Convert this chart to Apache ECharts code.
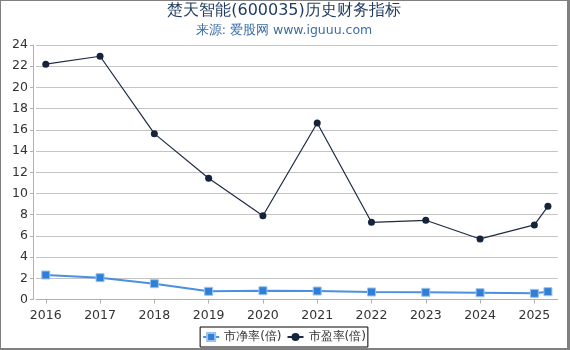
<!DOCTYPE html>
<html>
<head>
<meta charset="utf-8">
<script src="https://cdn.jsdelivr.net/npm/echarts@6/dist/echarts.min.js"></script>
<style>
html,body{margin:0;padding:0;background:#fff;}
#wrap{position:absolute;left:0;top:0;width:566px;height:347px;border-left:1px solid #808080;border-top:1px solid #808080;border-right:3px solid #808080;border-bottom:2px solid #808080;}
#chart{width:566px;height:347px;}
</style>
</head>
<body>
<div id="wrap"><div id="chart"></div></div>
<script>
const titleText = '楚天智能(600035)历史财务指标';
const subText = '来源: 爱股网 www.iguuu.com';
const xPositions = [2016, 2017, 2018, 2019, 2020, 2021, 2022, 2023, 2024, 2025, 2025.25];
const xTicks = [2016, 2017, 2018, 2019, 2020, 2021, 2022, 2023, 2024, 2025];
const yTicks = [0, 2, 4, 6, 8, 10, 12, 14, 16, 18, 20, 22, 24];
const pbName = '市净率(倍)';
const peName = '市盈率(倍)';
const pbValues = [2.31, 2.06, 1.49, 0.77, 0.83, 0.80, 0.71, 0.68, 0.64, 0.58, 0.74];
const peValues = [22.19, 22.94, 15.64, 11.43, 7.90, 16.65, 7.28, 7.47, 5.71, 7.03, 8.79];

const chart = echarts.init(document.getElementById('chart'));
const font = 'DejaVu Sans';
chart.setOption({
  animation: false,
  title: {
    text: titleText,
    subtext: subText,
    left: 'center',
    top: 2,
    padding: [0, 0],
    itemGap: 5,
    textStyle: {fontFamily: font, fontSize: 16, fontWeight: 'normal', color: '#1e3a5f'},
    subtextStyle: {fontFamily: font, fontSize: 12.5, color: '#3a6ea5'}
  },
  legend: {
    bottom: 1,
    left: 'center',
    padding: [4, 2],
    itemWidth: 16,
    itemHeight: 10,
    itemGap: 5,
    borderColor: '#000',
    borderWidth: 1,
    textStyle: {fontFamily: font, fontSize: 12, color: '#333'},
    data: [pbName, peName]
  },
  grid: {left: 35, right: 9.3, top: 44, bottom: 48.5},
  xAxis: {
    type: 'value',
    min: 2015.82,
    max: 2025.43,
    offset: 4,
    splitLine: {show: false},
    axisLine: {show: true, lineStyle: {color: '#b0b0b0'}},
    axisTick: {show: true, length: 4, customValues: xTicks, lineStyle: {color: '#b0b0b0'}},
    axisLabel: {customValues: xTicks, fontFamily: font, fontSize: 12.5, color: '#333', margin: 6, formatter: v => String(v)}
  },
  yAxis: {
    type: 'value',
    min: yTicks[0],
    max: yTicks[yTicks.length - 1],
    interval: 2,
    offset: 3,
    axisLine: {show: true, lineStyle: {color: '#b0b0b0'}},
    axisTick: {show: true, length: 3, lineStyle: {color: '#b0b0b0'}},
    axisLabel: {fontFamily: font, fontSize: 12.5, color: '#333', margin: 5},
    splitLine: {show: true, showMinLine: false, lineStyle: {color: '#c4c4c4'}}
  },
  series: [
    {
      name: pbName,
      type: 'line',
      data: xPositions.map((x, i) => [x, pbValues[i]]),
      symbol: 'rect',
      symbolSize: 8,
      itemStyle: {color: '#2f7ed8', borderColor: '#9cc3ee', borderWidth: 1},
      lineStyle: {color: '#4b8fe0', width: 2},
      z: 2
    },
    {
      name: peName,
      type: 'line',
      data: xPositions.map((x, i) => [x, peValues[i]]),
      symbol: 'circle',
      symbolSize: 7,
      itemStyle: {color: '#15233b'},
      lineStyle: {color: '#1c2b42', width: 1.2},
      z: 3
    }
  ]
});
</script>
</body>
</html>
